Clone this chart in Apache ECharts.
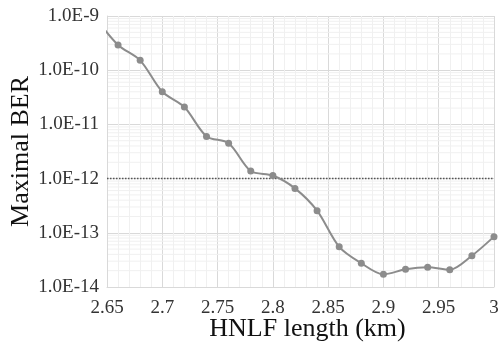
<!DOCTYPE html>
<html>
<head>
<meta charset="utf-8">
<script src="https://cdn.jsdelivr.net/npm/echarts@6/dist/echarts.min.js"></script>
<style>
    html, body { margin: 0; padding: 0; background: #fff; }
    #chart { width: 498px; height: 345px; }
</style>
</head>
<body>
<div id="chart"></div>
<script>
// HNLF length (km)
const lengths = [2.64, 2.66, 2.68, 2.70, 2.72, 2.74, 2.76, 2.78, 2.80, 2.82, 2.84,
    2.86, 2.88, 2.90, 2.92, 2.94, 2.96, 2.98, 3.00];
// Maximal BER
const maxBer = [9.0e-10, 2.92e-10, 1.52e-10, 4.0e-11, 2.09e-11, 6.0e-12, 4.5e-12, 1.38e-12,
    1.14e-12, 6.6e-13, 2.56e-13, 5.5e-14, 2.74e-14, 1.71e-14, 2.12e-14, 2.31e-14, 2.08e-14,
    3.78e-14, 8.5e-14];
// FEC threshold
const threshold = 1e-12;
const xRange = [2.65, 3];
// log minor gridlines (2..9 of each decade)
const decades = [-14, -13, -12, -11, -10];
const minorMults = [2, 3, 4, 5, 6, 7, 8, 9];

const serif = '"Liberation Serif", "Times New Roman", serif';

function drawChart(chartDom) {
    let myChart = echarts.getInstanceByDom(chartDom);
    if (myChart) myChart.dispose();
    myChart = echarts.init(chartDom);

    const minorValues = [];
    decades.forEach(d => {
        minorMults.forEach(m => minorValues.push(m * Math.pow(10, d)));
    });

    myChart.setOption({
        animation: false,
        grid: {
            left: 107,
            right: 4,
            top: 16,
            bottom: 58,
            outerBoundsMode: 'none'
        },
        xAxis: {
            type: 'value',
            min: xRange[0],
            max: xRange[1],
            interval: 0.05,
            name: 'HNLF length (km)',
            nameLocation: 'middle',
            nameGap: 29,
            nameMoveOverlap: false,
            nameTextStyle: {
                fontFamily: serif,
                fontSize: 26,
                color: '#111',
                padding: [0, 0, 0, 14]
            },
            axisLine: { show: true, lineStyle: { color: '#d9d9d9', width: 1 } },
            axisTick: { show: false },
            axisLabel: {
                margin: 12,
                fontFamily: serif,
                fontSize: 19,
                color: '#333',
                formatter: v => String(+v.toFixed(2))
            },
            splitLine: { show: true, lineStyle: { color: '#d9d9d9', width: 1 } },
            minorTick: { show: false, splitNumber: 5 },
            minorSplitLine: { show: true, lineStyle: { color: '#f0f0f0', width: 1 } }
        },
        yAxis: {
            type: 'log',
            logBase: 10,
            min: 1e-14,
            max: 1e-9,
            interval: 1,
            name: 'Maximal BER',
            nameLocation: 'middle',
            nameGap: 73,
            nameMoveOverlap: false,
            nameTextStyle: {
                fontFamily: serif,
                fontSize: 26,
                color: '#111'
            },
            axisLine: { show: true, lineStyle: { color: '#d9d9d9', width: 1 } },
            axisTick: { show: false },
            axisLabel: {
                margin: 8,
                fontFamily: serif,
                fontSize: 19,
                color: '#333',
                formatter: v => '1.0E' + Math.round(Math.log10(v))
            },
            splitLine: { show: true, lineStyle: { color: '#d9d9d9', width: 1 } }
        },
        series: [{
            // log minor gridlines
            type: 'custom',
            silent: true,
            z: 0,
            data: minorValues,
            renderItem: function (params, api) {
                const v = api.value(0);
                const p0 = api.coord([xRange[0], v]);
                const p1 = api.coord([xRange[1], v]);
                return {
                    type: 'line',
                    shape: { x1: p0[0], y1: p0[1], x2: p1[0], y2: p1[1] },
                    style: { stroke: '#f0f0f0', lineWidth: 1 }
                };
            },
            encode: { y: 0 }
        }, {
            // threshold
            type: 'line',
            silent: true,
            z: 3,
            symbol: 'none',
            data: xRange.map(x => [x, threshold]),
            lineStyle: { color: '#555', width: 1.5, type: [1.5, 1.5] }
        }, {
            name: 'Maximal BER',
            type: 'line',
            data: lengths.map((x, i) => [x, maxBer[i]]),
            smooth: 0.3,
            clip: true,
            symbol: 'circle',
            symbolSize: 7,
            z: 4,
            lineStyle: { color: '#8c8c8c', width: 2 },
            itemStyle: { color: '#8c8c8c' }
        }]
    });

    window.onresize = function () {
        myChart.resize();
    }
}

drawChart(document.getElementById('chart'));
</script>
</body>
</html>
